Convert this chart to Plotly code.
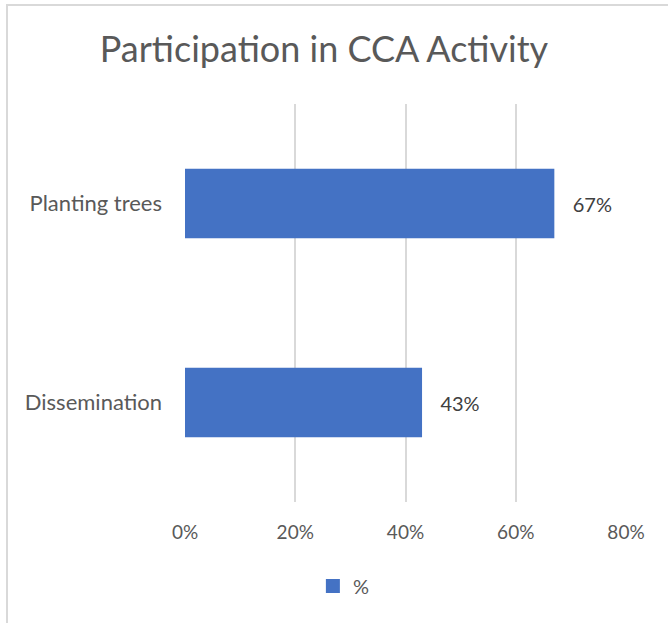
import plotly.graph_objects as go

# Share of respondents taking part in each climate-change-adaptation activity
activities = ["Planting trees", "Dissemination"]
shares = [0.67, 0.43]
series_name = "%"
tick_values = [0, 0.2, 0.4, 0.6, 0.8]
tick_labels = ["0%", "20%", "40%", "60%", "80%"]

BAR_BLUE = "#4472C4"
GRID_GREY = "#D9D9D9"
TEXT_GREY = "#595959"
FONT = "Lato, Carlito, 'Open Sans', sans-serif"

# bars (legend entry drawn by a marker-only trace so the swatch is a solid square)
fig = go.Figure(
    go.Bar(
        x=shares,
        y=activities,
        orientation="h",
        name=series_name,
        marker=dict(color=BAR_BLUE, line=dict(width=0)),
        width=0.35,
        text=["\u00a0\u00a0\u00a0" + f"{v:.0%}" for v in shares],
        textposition="outside",
        textfont=dict(family=FONT, size=20, color="#404040"),
        cliponaxis=False,
        showlegend=False,
    )
)
fig.add_trace(
    go.Scatter(
        x=[None],
        y=[None],
        mode="markers",
        name=series_name,
        marker=dict(symbol="square", size=14, color=BAR_BLUE),
        showlegend=True,
    )
)

fig.update_layout(
    width=668,
    height=623,
    margin=dict(l=185, r=42, t=104, b=121),
    paper_bgcolor="white",
    plot_bgcolor="white",
    font=dict(family=FONT, color=TEXT_GREY),
    title=dict(
        text="Participation in CCA Activity",
        x=0.485,
        xanchor="center",
        y=0.92,
        yanchor="middle",
        font=dict(family=FONT, size=36, color=TEXT_GREY),
    ),
    xaxis=dict(
        range=[0, 0.8],
        tickvals=tick_values,
        ticktext=tick_labels,
        showgrid=True,
        gridcolor=GRID_GREY,
        gridwidth=1.5,
        zeroline=False,
        showline=False,
        ticks="",
        ticklabelstandoff=17,
        tickfont=dict(family=FONT, size=19, color=TEXT_GREY),
        fixedrange=True,
    ),
    yaxis=dict(
        categoryorder="array",
        categoryarray=activities[::-1],
        showgrid=False,
        zeroline=False,
        showline=False,
        ticks="",
        ticklabelstandoff=22,
        tickfont=dict(family=FONT, size=22, color=TEXT_GREY),
        fixedrange=True,
    ),
    legend=dict(
        orientation="h",
        x=0.290,
        xanchor="left",
        y=-0.211,
        yanchor="middle",
        font=dict(family=FONT, size=20, color=TEXT_GREY),
        bgcolor="rgba(0,0,0,0)",
    ),
    shapes=[
        dict(
            type="rect",
            xref="paper",
            yref="paper",
            x0=(7 - 185) / 441,
            x1=(700 - 185) / 441,
            y0=-(660 - 502) / 398,
            y1=1 + (104 - 5) / 398,
            line=dict(color=GRID_GREY, width=2),
            fillcolor="rgba(0,0,0,0)",
            layer="below",
        )
    ],
)

fig.write_html("out.html")
